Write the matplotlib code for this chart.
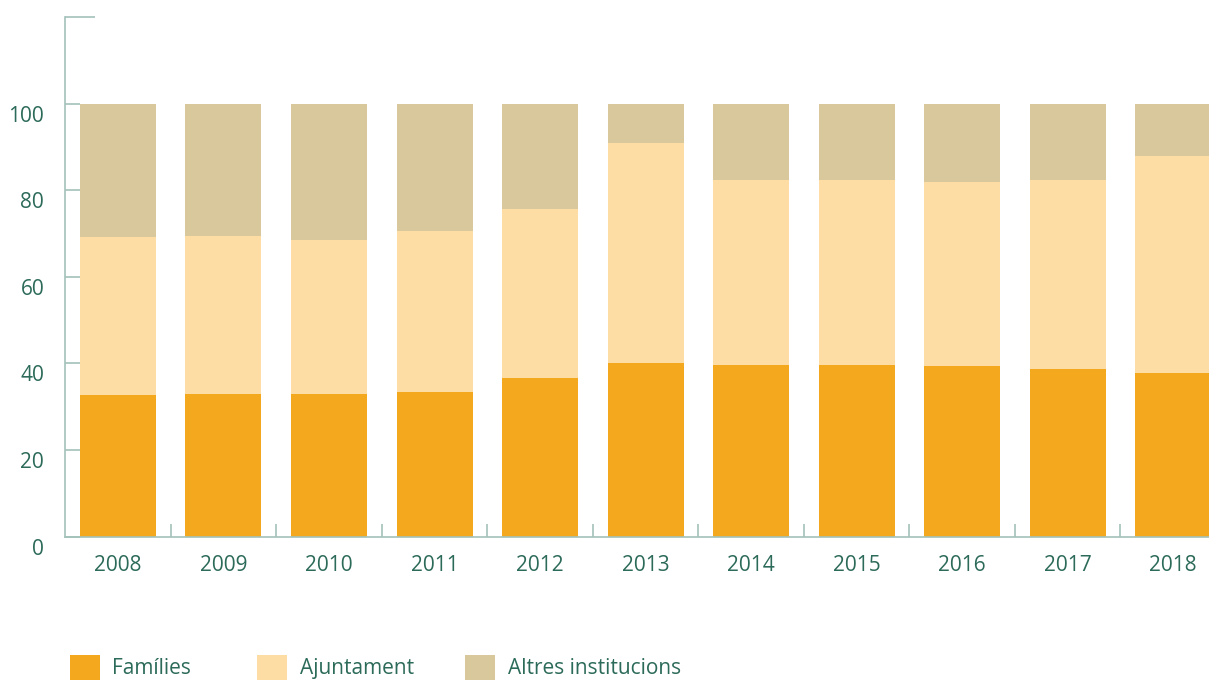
import matplotlib
matplotlib.use('Agg')
import matplotlib.pyplot as plt
import matplotlib.transforms as mtransforms
import numpy as np

years = ['2008', '2009', '2010', '2011', '2012', '2013',
         '2014', '2015', '2016', '2017', '2018']
families = [32.8, 33.0, 33.0, 33.5, 36.7, 40.2, 39.7, 39.7, 39.3, 38.8, 37.9]
ajuntament = [36.3, 36.5, 35.6, 37.2, 39.0, 50.6, 42.7, 42.7, 42.5, 43.6, 50.1]
altres = [100 - f - a for f, a in zip(families, ajuntament)]

series_names = ['Famílies', 'Ajuntament', 'Altres institucions']
colors = ['#F4A81D', '#FDDDA4', '#D9C89C']
text_color = '#2C6A59'
axis_color = '#A3C2BA'

plt.rcParams['font.family'] = ['Open Sans', 'DejaVu Sans']
plt.rcParams['font.weight'] = 'medium'

fig = plt.figure(figsize=(12.09, 6.82), dpi=100)
ax = fig.add_axes([65 / 1209, 145.3 / 682, 1 - 65 / 1209, 519.7 / 682])

x = np.arange(len(years))
width = 0.72
bottom = np.zeros(len(years))
handles = []
for vals, name, c in zip([families, ajuntament, altres], series_names, colors):
    b = ax.bar(x, vals, width, bottom=bottom, color=c, label=name, linewidth=0)
    handles.append(b)
    bottom += np.array(vals)

ax.set_xlim(-0.502, 10.34)
ax.set_ylim(0, 120)

for s in ['top', 'right']:
    ax.spines[s].set_visible(False)
for s in ['left', 'bottom']:
    ax.spines[s].set_color(axis_color)
    ax.spines[s].set_linewidth(1.2)

# x axis: labels at centres, small ticks between bars
ax.set_xticks(x)
ax.set_xticklabels(years)
ax.set_xticks(x[:-1] + 0.5, minor=True)
ax.tick_params(axis='x', which='major', length=0, pad=13,
               labelsize=15, labelcolor=text_color)
ax.tick_params(axis='x', which='minor', direction='in', length=9.5,
               color=axis_color, width=1.2)

# y axis
ax.set_yticks([0, 20, 40, 60, 80, 100])
ax.set_yticks([100, 120], minor=True)
ax.tick_params(axis='y', which='major', direction='in', length=11,
               color=axis_color, width=1.2, pad=15,
               labelsize=15, labelcolor=text_color)
ax.tick_params(axis='y', which='minor', direction='in', length=21.6,
               color=axis_color, width=1.2)
offset = mtransforms.ScaledTranslation(0, -0.1, fig.dpi_scale_trans)
for lab in ax.get_yticklabels():
    lab.set_transform(lab.get_transform() + offset)

# legend entries at fixed positions along the bottom
legend_x = [70, 257, 465]
for h, name, lx in zip(handles, series_names, legend_x):
    fig.legend(handles=[h], labels=[name], loc='upper left',
               bbox_to_anchor=(lx / 1209, 1 - 655 / 682),
               frameon=False, fontsize=15, labelcolor=text_color,
               handlelength=1.44, handleheight=1.44, handletextpad=0.6,
               borderpad=0, borderaxespad=0)

fig.savefig('out.png', dpi=100)
